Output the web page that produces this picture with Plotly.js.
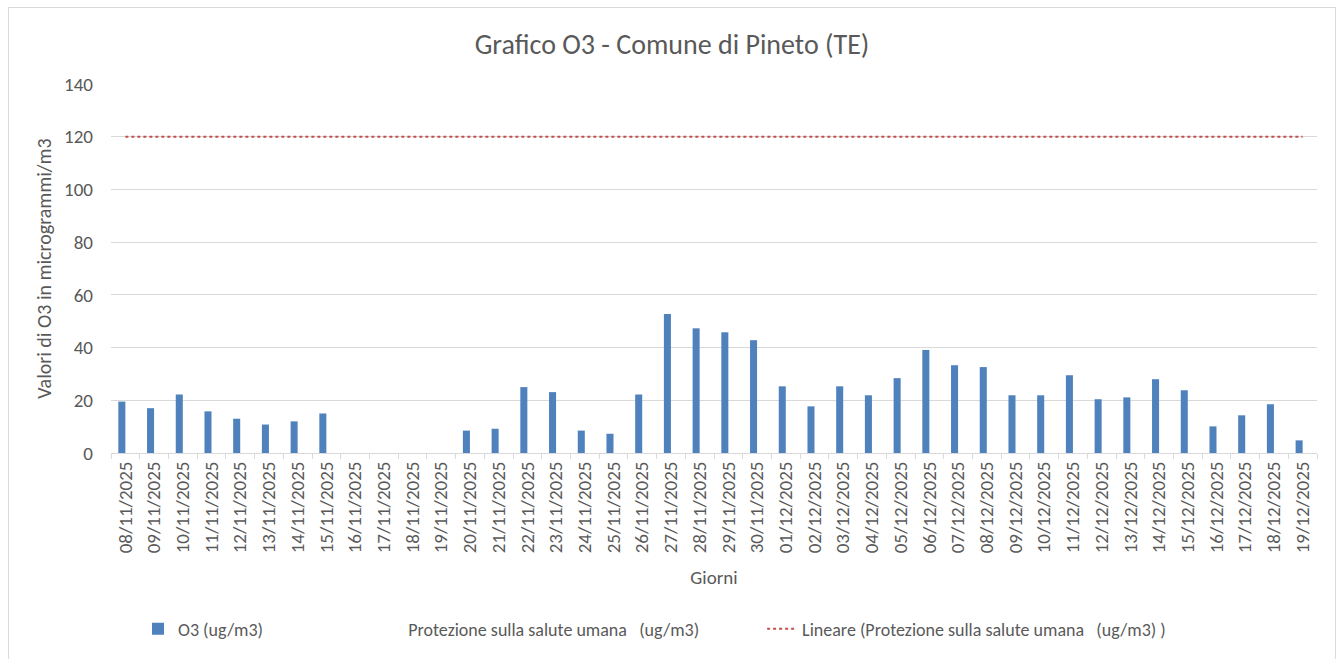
<!DOCTYPE html>
<html>
<head>
<meta charset="utf-8">
<script src="https://cdn.plot.ly/plotly-3.0.1.min.js"></script>
<style>
  html, body { margin: 0; padding: 0; background: #fff; overflow: hidden; }
  #wrap { position: relative; width: 1344px; height: 659px; }
  #plot { position: absolute; left: 0; top: 0; width: 1344px; height: 659px; }
  #cornice { position: absolute; left: 8px; top: 7px; width: 1326px; height: 700px;
             border: 1px solid #d9d9d9; pointer-events: none; }
</style>
</head>
<body>
<div id="wrap">
  <div id="plot"></div>
  <div id="cornice"></div>
</div>
<script>
// giorni di misura
let giorni = [
  "08/11/2025", "09/11/2025", "10/11/2025", "11/11/2025", "12/11/2025", "13/11/2025",
  "14/11/2025", "15/11/2025", "16/11/2025", "17/11/2025", "18/11/2025", "19/11/2025",
  "20/11/2025", "21/11/2025", "22/11/2025", "23/11/2025", "24/11/2025", "25/11/2025",
  "26/11/2025", "27/11/2025", "28/11/2025", "29/11/2025", "30/11/2025", "01/12/2025",
  "02/12/2025", "03/12/2025", "04/12/2025", "05/12/2025", "06/12/2025", "07/12/2025",
  "08/12/2025", "09/12/2025", "10/12/2025", "11/12/2025", "12/12/2025", "13/12/2025",
  "14/12/2025", "15/12/2025", "16/12/2025", "17/12/2025", "18/12/2025", "19/12/2025"
];

// O3 (ug/m3), null = dato mancante
let o3 = [
  19.5, 17.0, 22.2, 15.8, 13.0, 10.8,
  12.0, 15.0, null, null, null, null,
  8.5, 9.2, 25.0, 23.1, 8.5, 7.3,
  22.2, 52.7, 47.3, 45.8, 42.8, 25.3,
  17.7, 25.3, 21.9, 28.4, 39.1, 33.3,
  32.6, 21.9, 21.9, 29.5, 20.4, 21.1,
  28.0, 23.8, 10.1, 14.3, 18.5, 4.8
];

// soglia di protezione della salute umana (ug/m3)
let protezione = [
  120, 120, 120, 120, 120, 120, 120, 120, 120, 120, 120, 120, 120, 120,
  120, 120, 120, 120, 120, 120, 120, 120, 120, 120, 120, 120, 120, 120,
  120, 120, 120, 120, 120, 120, 120, 120, 120, 120, 120, 120, 120, 120
];

let yTicks = [0, 20, 40, 60, 80, 100, 120, 140];

let font = "Calibri, Carlito, Lato, sans-serif";
let grigio = "#595959";

// barre O3
let traceO3 = {
  x: giorni,
  y: o3,
  type: "bar",
  name: "O3 (ug/m3)",
  marker: { color: "#4f81bd" },
  legend: "legend",
  hoverinfo: "x+y"
};

// serie della soglia, senza riempimento come nell'originale
let traceProt = {
  x: giorni,
  y: protezione,
  type: "bar",
  name: "Protezione sulla salute umana\u00a0\u00a0\u00a0(ug/m3)",
  marker: { color: "rgba(0,0,0,0)" },
  legend: "legend2",
  hoverinfo: "skip"
};

// linea di tendenza lineare della soglia
let traceTrend = {
  x: giorni,
  y: protezione,
  type: "scatter",
  mode: "lines",
  name: "Lineare (Protezione sulla salute umana\u00a0\u00a0\u00a0(ug/m3) )",
  line: { color: "#c0504d", width: 2, dash: "dot" },
  legend: "legend3",
  hoverinfo: "skip"
};

let traceData = [traceO3, traceProt, traceTrend];

let legendBase = {
  orientation: "h",
  yanchor: "middle",
  xanchor: "left",
  font: { family: font, size: 18, color: grigio },
  bgcolor: "rgba(0,0,0,0)",
  borderwidth: 0
};

let layout = {
  width: 1344,
  height: 659,
  margin: { l: 111, r: 27, t: 84, b: 204 },
  paper_bgcolor: "#ffffff",
  plot_bgcolor: "#ffffff",
  font: { family: font, color: grigio },
  title: {
    text: "Grafico O3 - Comune di Pineto (TE)",
    font: { family: font, size: 28, color: grigio },
    x: 0.5,
    xanchor: "center",
    y: 0.933,
    yanchor: "middle"
  },
  barmode: "group",
  bargap: 0.51,
  bargroupgap: 0,
  xaxis: {
    type: "category",
    tickangle: -90,
    tickfont: { family: font, size: 19, color: grigio },
    ticks: "outside",
    tickson: "boundaries",
    ticklen: 5,
    tickcolor: "#d9d9d9",
    showline: true,
    linecolor: "#d9d9d9",
    linewidth: 1,
    showgrid: false,
    title: { text: "Giorni", font: { family: font, size: 19, color: grigio }, standoff: 18 },
    automargin: false
  },
  yaxis: {
    range: [0, 140],
    tickvals: yTicks,
    tickfont: { family: font, size: 19, color: grigio },
    showgrid: true,
    gridcolor: "#d9d9d9",
    gridwidth: 1,
    zeroline: false,
    showline: false,
    ticks: "",
    ticklabelstandoff: 17,
    title: { text: "Valori di O3 in microgrammi/m3", font: { family: font, size: 20, color: grigio }, standoff: 7 },
    automargin: false
  },
  legend: Object.assign({}, legendBase, { x: 0.0224, y: -0.477 }),
  legend2: Object.assign({}, legendBase, { x: 0.2133, y: -0.477 }),
  legend3: Object.assign({}, legendBase, { x: 0.5399, y: -0.477 }),
  showlegend: true
};

Plotly.newPlot("plot", traceData, layout, { displayModeBar: false, responsive: false });
</script>
</body>
</html>
